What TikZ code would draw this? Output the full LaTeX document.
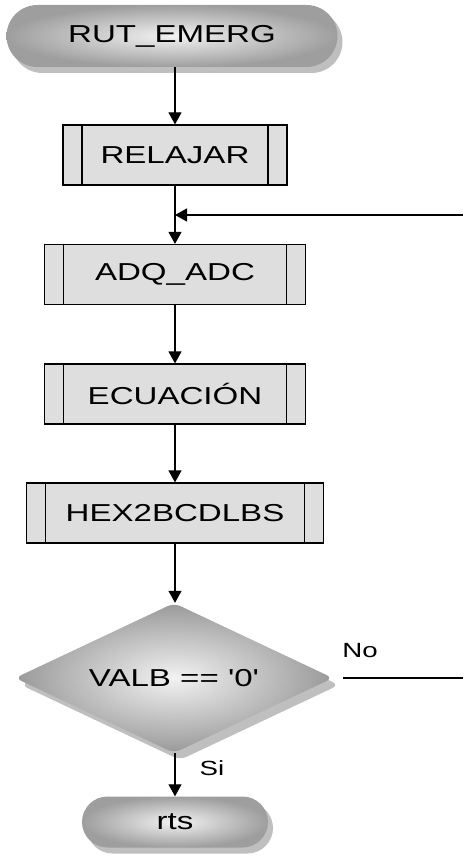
\documentclass[tikz,border=0pt]{standalone}
\usepackage{fontspec}
\setmainfont{Liberation Sans}
\usetikzlibrary{arrows.meta, shapes.geometric, shadows}
\tikzset{>={Triangle[length=12pt,width=13pt]}}
\newcommand{\wide}[1]{\scalebox{1.35}[1]{#1}}
\tikzset{
  term/.style={shape=rectangle, shade, inner color=black!5, outer color=black!38,
    drop shadow={shadow xshift=5pt, shadow yshift=-6pt, fill=black!25, opacity=1},
    inner sep=0pt, font=\fontsize{24.5}{28}\selectfont},
  sub/.style={draw, line width=1.2pt, fill=black!13, minimum height=60pt, inner sep=0pt,
    font=\fontsize{24.5}{28}\selectfont,
    path picture={\draw[line width=1.2pt]
      ([xshift=19pt]path picture bounding box.north west) -- ([xshift=19pt]path picture bounding box.south west)
      ([xshift=-19pt]path picture bounding box.north east) -- ([xshift=-19pt]path picture bounding box.south east);}},
  cond/.style={diamond, aspect=2.12, shade, inner color=black!5, outer color=black!40, rounded corners=7pt,
    drop shadow={shadow xshift=6pt, shadow yshift=-7pt, fill=black!25, opacity=1},
    inner sep=0pt, minimum width=318pt, minimum height=150pt, font=\fontsize{24.5}{28}\selectfont},
  lbl/.style={font=\fontsize{20.5}{24}\selectfont},
  link/.style={line width=1.2pt}
}
\begin{document}
\begin{tikzpicture}[x=1pt, y=-1pt]
\useasboundingbox (0,0) rectangle (463,861);

\node[term, rounded corners=31pt, minimum width=331pt, minimum height=62pt] (start) at (172,36) {\wide{RUT\_EMERG}};
\node[sub, minimum width=224pt] (relajar) at (175,155) {\wide{RELAJAR}};
\node[sub, minimum width=261pt] (adq) at (175,274.5) {\wide{ADQ\_ADC}};
\node[sub, minimum width=261pt] (ecu) at (175,394) {\wide{ECUACIÓN}};
\node[sub, minimum width=297pt] (hex) at (175,513) {\wide{HEX2BCDLBS}};
\node[cond] (valb) at (174,678) {\wide{VALB == \textquotesingle0\textquotesingle}};
\node[term, rounded corners=25.5pt, minimum width=186pt, minimum height=51pt] (rts) at (175,822) {\wide{rts}};

\node[lbl] (no) at (360,651) {\wide{No}};
\node[lbl] (si) at (212,768) {\wide{Si}};

\coordinate (join) at (175,215);
\coordinate (back) at (463,215);
\coordinate (out) at (463,678);

% main path
\draw[link, ->] (start.south -| relajar.north) -- (relajar.north);
\draw[link, ->] (relajar) -- (adq);
\draw[link, ->] (adq) -- (ecu);
\draw[link, ->] (ecu) -- (hex);
\draw[link, ->] (hex) -- (valb.north -| hex.south);
\draw[link, ->] (valb.south -| rts.north) -- (rts);

% loop back
\draw[link] ([xshift=10pt]valb.east) -- (out);
\draw[link, ->] (back) -- (join);
\end{tikzpicture}
\end{document}
